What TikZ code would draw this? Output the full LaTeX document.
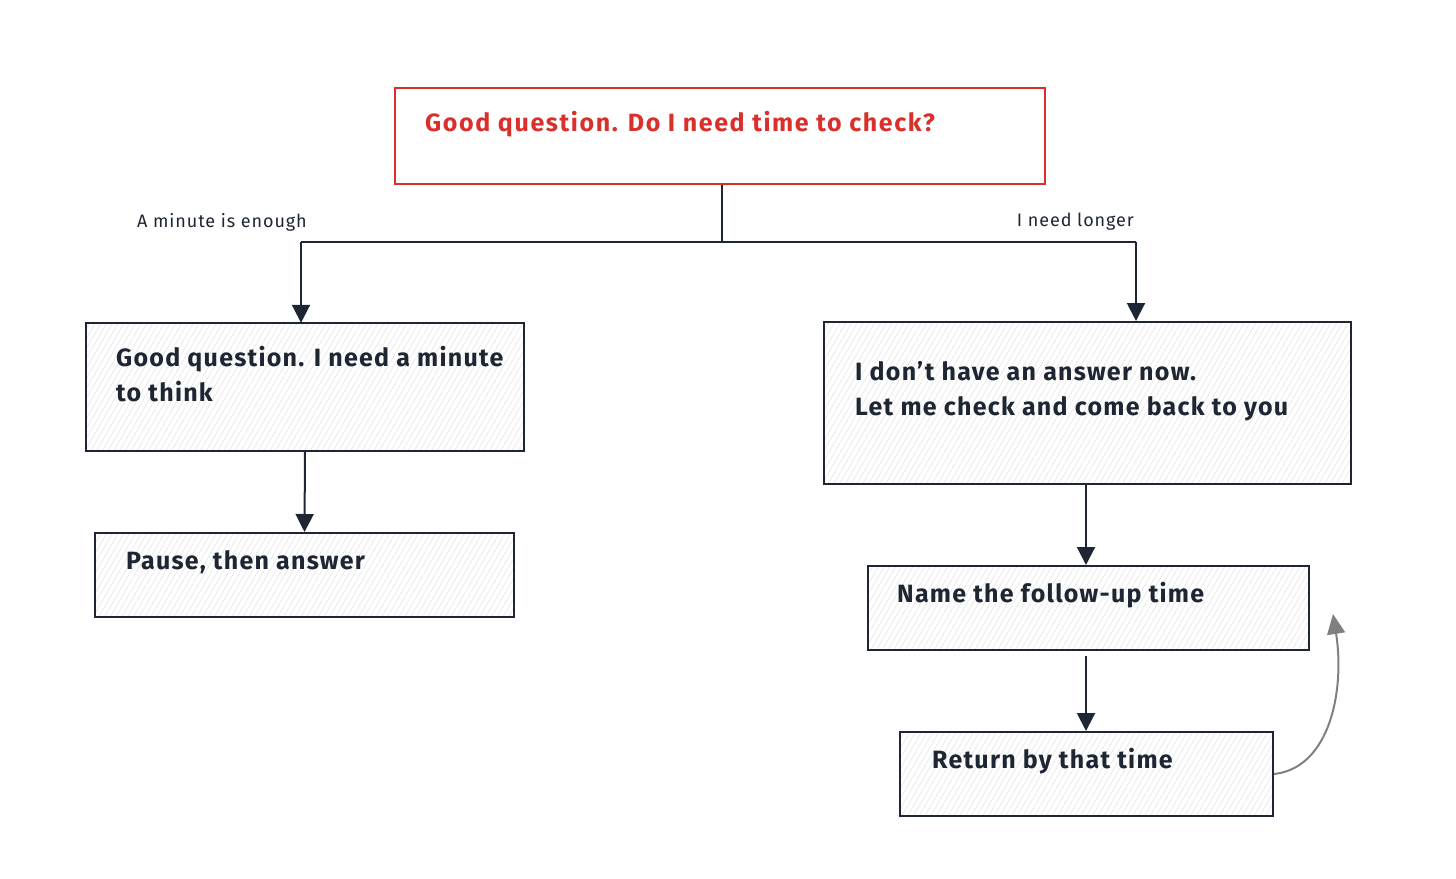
\documentclass[tikz,border=0pt]{standalone}
\usepackage{fontspec}
\setmainfont{Fira Sans}
\usetikzlibrary{arrows.meta,patterns.meta}

\definecolor{ink}{HTML}{1E2633}
\definecolor{alert}{HTML}{D9302C}

\tikzset{
  box/.style={draw=ink, line width=2pt, inner sep=0pt,
    pattern={Lines[angle=60,distance=5pt,line width=0.4pt]}, pattern color=black!14},
  askbox/.style={draw=alert, line width=2pt, inner sep=0pt},
  boxtext/.style={anchor=west, inner sep=0pt, align=left, text=ink,
    font=\bfseries\fontsize{25}{35}\selectfont\addfontfeature{LetterSpace=5}},
  note/.style={inner sep=0pt, text=ink,
    font=\fontsize{18}{20}\selectfont\addfontfeature{LetterSpace=5}},
  wire/.style={draw=ink, line width=2pt},
  flow/.style={wire, -{Triangle[length=18pt,width=18pt]}},
  recall/.style={draw=gray, line width=2pt, -{Triangle[length=20pt,width=18pt]}},
}

\begin{document}
\begin{tikzpicture}[x=1pt, y=-1pt]
\useasboundingbox (0,0) rectangle (1456,878);

% boxes
\node[askbox, minimum width=650pt, minimum height=96pt] (ask) at (720,136) {};
\node[box, minimum width=438pt, minimum height=128pt] (wait) at (305,387) {};
\node[box, minimum width=419pt, minimum height=84pt] (pause) at (304.5,575) {};
\node[box, minimum width=527pt, minimum height=162pt] (defer) at (1087.5,403) {};
\node[box, minimum width=441pt, minimum height=84pt] (name) at (1088.5,608) {};
\node[box, minimum width=373pt, minimum height=84pt] (back) at (1086.5,774) {};

% texts
\node[boxtext, text=alert, font=\bfseries\fontsize{25}{35}\selectfont\addfontfeature{LetterSpace=6.5}] (askt) at (425,124) {Good question. Do I need time to check?};
\node[boxtext] (waitt) at (116,374) {Good question. I need a minute\\to think};
\node[boxtext] (pauset) at (126,562) {Pause, then answer};
\node[boxtext] (defert) at (855,391) {I don’t have an answer now.\\Let me check and come back to you};
\node[boxtext] (namet) at (897,595) {Name the follow-up time};
\node[boxtext] (backt) at (932,761) {Return by that time};

\node[note, anchor=west] (quick) at (137,222) {A minute is enough};
\node[note, anchor=east] (longer) at (1134,222) {I need longer};

% split
\coordinate (split) at (722,242);
\coordinate (lft) at (301,242);
\coordinate (rgt) at (1136,242);
\draw[wire] (ask.south -| split) -- (split);
\draw[wire] (lft) -- (rgt);
\draw[flow] (lft) -- (lft |- wait.north);
\draw[flow] (rgt) -- (rgt |- defer.north);

% chains
\coordinate (mid) at (1086,0);
\draw[flow] (wait.south) -- (pause.north);
\draw[flow] (defer.south -| mid) -- (mid |- name.north);
\draw[flow, shorten <=5pt] (name.south -| mid) -- (mid |- back.north);

% back to the follow-up time
\coordinate (recallend) at (1333,614);
\draw[recall] (back.east) .. controls (1330,768) and (1345,690) .. (recallend);
\end{tikzpicture}
\end{document}
